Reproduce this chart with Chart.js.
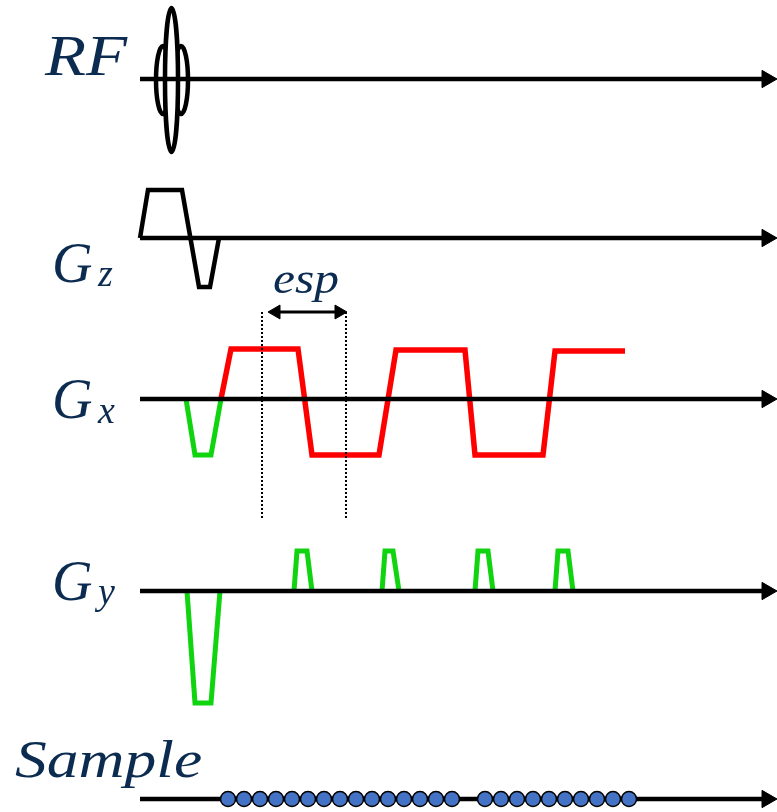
<!DOCTYPE html>
<html>
<head>
<meta charset="utf-8">
<title>EPI pulse sequence</title>
<script src="https://cdn.jsdelivr.net/npm/chart.js@4.4.1/dist/chart.umd.min.js"></script>
<style>
    html, body { margin: 0; padding: 0; background: #ffffff; }
    #wrap { width: 777px; height: 812px; position: relative; }
</style>
</head>
<body>
<div id="wrap"><canvas id="seqChart"></canvas></div>
<script>
// rows of the diagram and the level (chart units) of their time axis
const rowLabels = ['RF', 'Gz', 'Gx', 'Gy', 'Sample'];
const rowLevels = [79, 238, 399, 591, 799];
const axisStart = 140;
const axisEnd = 767;

// slice select gradient (Gz)
const gzTime = [140, 148, 182, 199, 210, 219];
const gzAmp = [0, 48, 48, -49, -49, 0];

// readout prephaser (Gx, green) and readout train (Gx, red)
const gxPreTime = [186, 195, 211, 221];
const gxPreAmp = [0, -56, -56, 0];
const gxReadTime = [221, 231, 298, 312, 379, 396, 465, 475, 543, 555, 625];
const gxReadAmp = [0, 50, 50, -56, -56, 49, 49, -56, -56, 48, 48];

// phase encode prephaser and blips (Gy)
const gyPreTime = [187, 195, 211, 220];
const gyPreAmp = [0, -112, -112, 0];
const gyBlipTime = [
    [294, 297, 307, 312],
    [382, 385, 393, 399],
    [475, 478, 488, 493],
    [555, 558, 568, 573]
];
const gyBlipAmp = [0, 40, 40, 0];

// sampling points
const sampleTime = [228, 244, 260, 276, 292, 308, 324, 340, 356, 372, 388, 404, 420, 436, 452,
                    485, 501, 517, 533, 549, 565, 581, 597, 613, 629];

// echo spacing markers
const espTime = [262, 346];
const espLevels = [312, 519];

const navy = '#0c2b50';
const serif = '"Liberation Serif", "Times New Roman", serif';

function wave(times, amps, level) {
    return times.map((t, i) => ({ x: t, y: level - amps[i] }));
}

function lineSet(data, color, width, order) {
    return {
        data: data,
        borderColor: color,
        borderWidth: width,
        pointRadius: 0,
        showLine: true,
        fill: false,
        tension: 0,
        clip: false,
        spanGaps: false,
        borderJoinStyle: 'miter',
        order: order
    };
}

const datasets = [];

// baselines with arrowheads
rowLevels.forEach(level => {
    datasets.push(lineSet([{ x: axisStart, y: level }, { x: axisEnd, y: level }], '#000000', 4.5, 1));
});
datasets.push({
    data: rowLevels.map(level => ({ x: axisEnd, y: level })),
    showLine: false,
    pointStyle: 'triangle',
    pointRadius: 10,
    rotation: 90,
    backgroundColor: '#000000',
    borderColor: '#000000',
    borderWidth: 1,
    clip: false,
    order: 1
});

// gradients
datasets.push(lineSet(wave(gzTime, gzAmp, rowLevels[1]), '#000000', 4.5, 2));
datasets.push(lineSet(wave(gxPreTime, gxPreAmp, rowLevels[2]), '#11d411', 5, 2));
datasets.push(lineSet(wave(gxReadTime, gxReadAmp, rowLevels[2]), '#ff0000', 5.5, 2));
datasets.push(lineSet(wave(gyPreTime, gyPreAmp, rowLevels[3]), '#11d411', 5, 2));
const blipData = [];
gyBlipTime.forEach(times => {
    wave(times, gyBlipAmp, rowLevels[3]).forEach(p => blipData.push(p));
    blipData.push({ x: times[times.length - 1] + 1, y: null });
});
datasets.push(lineSet(blipData, '#11d411', 5, 2));

// esp dotted lines and double arrow
espTime.forEach(t => {
    const ds = lineSet([{ x: t, y: espLevels[0] }, { x: t, y: espLevels[1] }], '#000000', 2, 1);
    ds.borderDash = [2, 2];
    datasets.push(ds);
});
datasets.push(lineSet([{ x: 272, y: 312 }, { x: 340, y: 312 }], '#000000', 3, 1));
datasets.push({
    data: [{ x: 276, y: 312 }, { x: 339, y: 312 }],
    showLine: false,
    pointStyle: 'triangle',
    pointRadius: 8,
    rotation: [270, 90],
    backgroundColor: '#000000',
    borderColor: '#000000',
    borderWidth: 1,
    clip: false,
    order: 1
});

// sampling points
datasets.push({
    data: sampleTime.map(t => ({ x: t, y: rowLevels[4] })),
    showLine: false,
    pointStyle: 'circle',
    pointRadius: 7.5,
    backgroundColor: '#4472c4',
    borderColor: '#000000',
    borderWidth: 1.5,
    clip: false,
    order: 0
});

// RF pulse drawn as ellipses, under the baseline
const rfPulse = {
    id: 'rfPulse',
    beforeDatasetsDraw(chart) {
        const { ctx, scales: { x, y } } = chart;
        const lobes = [
            { t: 163, r: 7, a: 34, fill: false },
            { t: 181, r: 7, a: 34, fill: false },
            { t: 171.5, r: 6.5, a: 72, fill: true }
        ];
        ctx.save();
        ctx.strokeStyle = '#000000';
        ctx.lineWidth = 4.5;
        lobes.forEach(l => {
            const cx = x.getPixelForValue(l.t);
            const cy = y.getPixelForValue(rowLevels[0] + 1);
            const rx = Math.abs(x.getPixelForValue(l.t + l.r) - cx);
            const ry = Math.abs(y.getPixelForValue(rowLevels[0] + 1 + l.a) - cy);
            ctx.beginPath();
            ctx.ellipse(cx, cy, rx, ry, 0, 0, Math.PI * 2);
            if (l.fill) {
                ctx.fillStyle = '#ffffff';
                ctx.fill();
            }
            ctx.stroke();
        });
        ctx.restore();
    }
};

// row labels and the esp label (the original lettering is a little wide)
const labels = {
    id: 'labels',
    afterDraw(chart) {
        const { ctx, scales: { x, y } } = chart;
        ctx.fillStyle = navy;
        ctx.textBaseline = 'alphabetic';

        function txt(s, t, level, size, stretch, align) {
            ctx.save();
            ctx.font = 'italic ' + size + 'px ' + serif;
            ctx.textAlign = align || 'left';
            ctx.translate(x.getPixelForValue(t), y.getPixelForValue(level));
            ctx.scale(stretch, 1);
            ctx.fillText(s, 0, 0);
            ctx.restore();
        }

        txt('RF', 45, 75, 56, 1.2);
        txt('G', 52, 282, 56, 1);
        txt('z', 98, 286, 38, 1);
        txt('G', 52, 418, 56, 1);
        txt('x', 98, 423, 38, 1);
        txt('G', 52, 600, 56, 1);
        txt('y', 98, 604, 38, 1);
        txt('Sample', 15, 777, 53, 1.2);
        txt('esp', 306, 293, 45, 1.1, 'center');
    }
};

new Chart(document.getElementById('seqChart'), {
    type: 'line',
    data: { datasets: datasets },
    options: {
        responsive: true,
        maintainAspectRatio: false,
        devicePixelRatio: 1,
        animation: false,
        events: [],
        layout: { padding: 0, autoPadding: false },
        scales: {
            x: { type: 'linear', min: 0, max: 777, display: false },
            y: { type: 'linear', min: 0, max: 812, reverse: true, display: false }
        },
        plugins: {
            legend: { display: false },
            tooltip: { enabled: false }
        }
    },
    plugins: [rfPulse, labels]
});
</script>
</body>
</html>
